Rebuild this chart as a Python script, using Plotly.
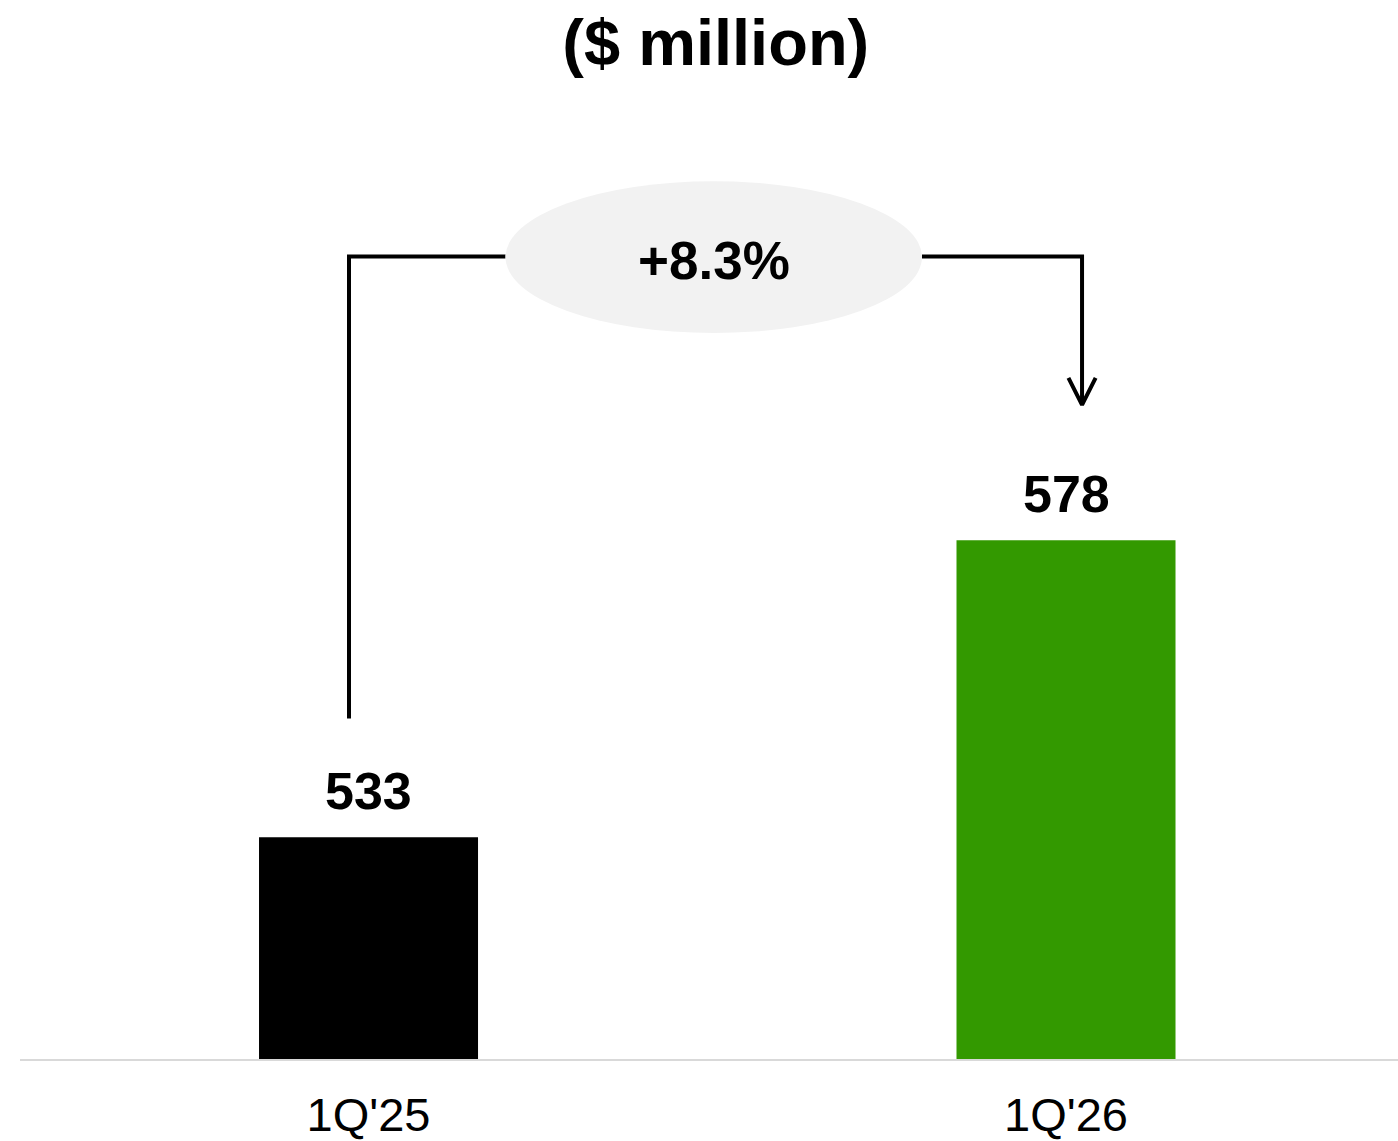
import plotly.graph_objects as go

# datos
periodos = ["1Q'25", "1Q'26"]
valores = [533, 578]
colores = ["#000000", "#339900"]
variacion = "+8.3%"
titulo = "($ million)"

pos = [0, 1]
y_base = 499.4          # eje y no arranca en cero
y_puente = 621          # altura de la linea de conexion

fig = go.Figure()

fig.add_trace(go.Bar(
    x=pos,
    y=valores,
    marker=dict(color=colores, line=dict(width=0)),
    width=0.314,
    hoverinfo="skip",
))

# etiquetas de valor
for p, v in zip(pos, valores):
    fig.add_annotation(
        x=p, y=v, text="<b>%d</b>" % v, showarrow=False,
        yanchor="bottom", yshift=15,
        font=dict(family="Liberation Sans, Arial", size=52, color="#000000"),
    )

# linea de conexion izquierda (sale de la barra 1 hacia el ovalo)
x_izq = pos[0] - 0.028
x_der = pos[1] + 0.023
elip_x0, elip_x1 = 0.1964, 0.7935
fig.add_trace(go.Scatter(
    x=[x_izq, x_izq, elip_x0],
    y=[valores[0] + 18, y_puente, y_puente],
    mode="lines", line=dict(color="#000000", width=4),
    hoverinfo="skip", showlegend=False,
))
# linea de conexion derecha con flecha
fig.add_trace(go.Scatter(
    x=[elip_x1, x_der, x_der],
    y=[y_puente, y_puente, valores[1] + 20.5],
    mode="lines", line=dict(color="#000000", width=4),
    hoverinfo="skip", showlegend=False,
))
fig.add_trace(go.Scatter(
    x=[x_der - 0.0195, x_der, x_der + 0.0195],
    y=[valores[1] + 24.6, valores[1] + 20.5, valores[1] + 24.6],
    mode="lines", line=dict(color="#000000", width=4),
    hoverinfo="skip", showlegend=False,
))

# ovalo con la variacion
fig.add_shape(
    type="circle", xref="x", yref="y",
    x0=elip_x0, x1=elip_x1, y0=609.4, y1=632.4,
    fillcolor="#f2f2f2", line=dict(width=0), layer="above",
)
fig.add_annotation(
    x=(elip_x0 + elip_x1) / 2, y=y_puente, text="<b>%s</b>" % variacion,
    showarrow=False, yshift=-4,
    font=dict(family="Liberation Sans, Arial", size=53, color="#000000"),
)

fig.update_layout(
    width=1398, height=1141,
    margin=dict(l=20, r=0, t=0, b=82),
    paper_bgcolor="white", plot_bgcolor="white",
    showlegend=False,
    title=dict(
        text="<b>%s</b>" % titulo,
        x=0.512, xref="container", xanchor="center",
        y=1 - 42 / 1141, yref="container", yanchor="middle",
        font=dict(family="Liberation Sans, Arial", size=65, color="#000000"),
    ),
    xaxis=dict(
        range=[-0.4997, 1.476],
        tickvals=pos, ticktext=periodos,
        showgrid=False, zeroline=False, automargin=False,
        showline=True, linecolor="#d9d9d9", linewidth=2,
        ticks="outside", ticklen=14, tickcolor="rgba(0,0,0,0)",
        tickfont=dict(family="Liberation Sans, Arial", size=47, color="#000000"),
    ),
    yaxis=dict(
        range=[y_base, y_base + 1059 / 6.6],
        visible=False, showgrid=False, zeroline=False, automargin=False,
    ),
)

fig.write_html("out.html", config={"displayModeBar": False},
               post_script="document.body.style.margin='0';")
